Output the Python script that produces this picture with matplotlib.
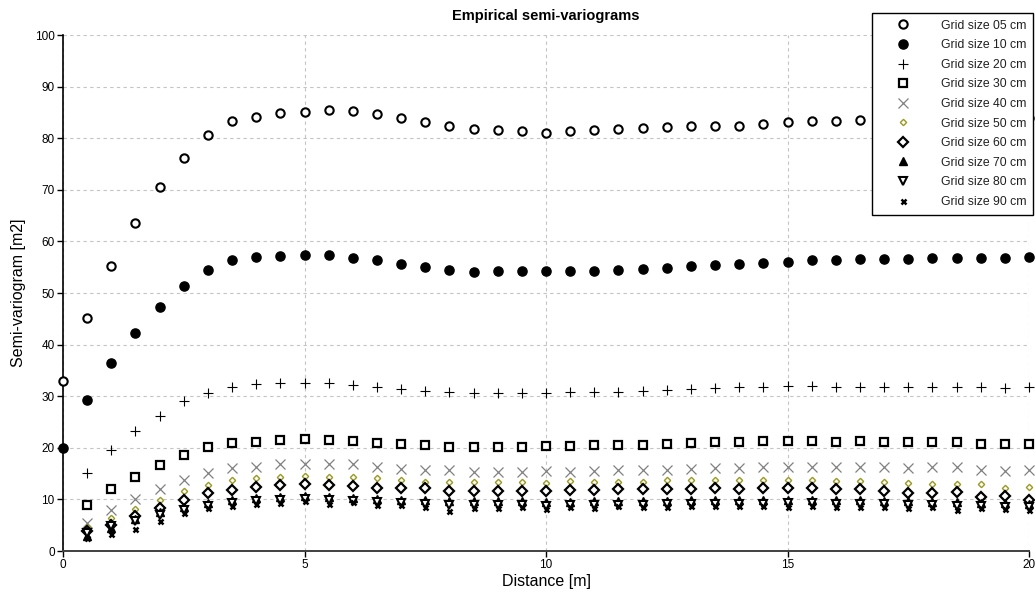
import numpy as np
import matplotlib
matplotlib.use("Agg")
import matplotlib.pyplot as plt

nan = np.nan
distance = [0.0, 0.5, 1.0, 1.5, 2.0, 2.5, 3.0, 3.5, 4.0, 4.5, 5.0, 5.5, 6.0, 6.5, 7.0, 7.5,
            8.0, 8.5, 9.0, 9.5, 10.0, 10.5, 11.0, 11.5, 12.0, 12.5, 13.0, 13.5, 14.0, 14.5,
            15.0, 15.5, 16.0, 16.5, 17.0, 17.5, 18.0, 18.5, 19.0, 19.5, 20.0]

g05 = [32.9, 45.1, 55.3, 63.5, 70.5, 76.1, 80.6, 83.3, 84.2, 84.8, 85.0, 85.4, 85.2, 84.6, 83.9, 83.1,
       82.3, 81.7, 81.5, 81.3, 81.1, 81.3, 81.5, 81.7, 81.9, 82.1, 82.3, 82.4, 82.3, 82.7,
       83.1, 83.3, 83.4, 83.6, 83.6, 83.7, 83.8, 83.8, 83.9, 83.9, 84.0]
g10 = [19.9, 29.2, 36.5, 42.3, 47.3, 51.4, 54.5, 56.3, 57.0, 57.2, 57.4, 57.4, 56.8, 56.4, 55.7, 55.0,
       54.4, 54.1, 54.2, 54.2, 54.2, 54.2, 54.3, 54.4, 54.6, 54.9, 55.2, 55.4, 55.6, 55.9,
       56.1, 56.3, 56.4, 56.5, 56.6, 56.6, 56.7, 56.8, 56.8, 56.8, 56.9]
g20 = [nan, 15.1, 19.5, 23.2, 26.2, 29.0, 30.6, 31.8, 32.3, 32.6, 32.6, 32.6, 32.2, 31.8, 31.4, 31.0,
       30.8, 30.7, 30.6, 30.6, 30.7, 30.8, 30.8, 30.9, 31.0, 31.2, 31.4, 31.6, 31.7, 31.8,
       31.9, 31.9, 31.8, 31.8, 31.8, 31.8, 31.8, 31.8, 31.7, 31.6, 31.8]
g30 = [nan, 8.9, 12.1, 14.4, 16.7, 18.6, 20.1, 20.9, 21.2, 21.5, 21.7, 21.6, 21.4, 20.9, 20.7, 20.6,
       20.1, 20.1, 20.1, 20.2, 20.4, 20.3, 20.6, 20.6, 20.6, 20.7, 20.9, 21.1, 21.1, 21.3,
       21.3, 21.3, 21.1, 21.3, 21.1, 21.1, 21.1, 21.1, 20.7, 20.7, 20.7]
g40 = [nan, 5.5, 7.9, 10.0, 12.1, 13.8, 15.2, 16.1, 16.2, 16.8, 16.8, 16.8, 16.8, 16.2, 15.9, 15.7,
       15.7, 15.3, 15.3, 15.4, 15.6, 15.4, 15.6, 15.7, 15.7, 15.7, 15.9, 16.1, 16.0, 16.2,
       16.3, 16.3, 16.2, 16.2, 16.2, 16.0, 16.3, 16.2, 15.7, 15.6, 15.7]
g50 = [nan, 4.6, 6.3, 8.1, 9.9, 11.6, 12.8, 13.8, 14.1, 14.4, 14.6, 14.4, 14.3, 14.1, 13.8, 13.4,
       13.4, 13.3, 13.3, 13.3, 13.1, 13.5, 13.3, 13.4, 13.4, 13.8, 13.7, 13.8, 13.8, 13.8,
       13.8, 13.8, 13.6, 13.6, 13.4, 13.2, 13.0, 12.9, 12.9, 12.3, 12.5]
g60 = [nan, 3.8, 5.0, 6.7, 8.3, 9.9, 11.2, 11.8, 12.5, 12.8, 13.0, 12.8, 12.6, 12.3, 12.3, 12.3,
       11.6, 11.6, 11.6, 11.6, 11.6, 11.8, 11.8, 12.0, 12.0, 12.1, 12.1, 12.3, 12.1, 12.3,
       12.3, 12.3, 12.1, 12.1, 11.6, 11.3, 11.3, 11.5, 10.4, 10.7, 9.9]
g70 = [nan, 3.0, 4.4, 6.2, 7.6, 8.6, 9.3, 9.8, 10.2, 10.4, 10.6, 10.5, 10.3, 10.1, 9.9, 9.8,
       9.6, 9.7, 9.6, 9.6, 9.5, 9.5, 9.6, 9.6, 9.7, 9.7, 9.8, 9.8, 9.8, 9.9,
       9.9, 9.9, 9.8, 9.8, 9.7, 9.6, 9.5, 9.4, 9.3, 9.3, 9.2]
g80 = [nan, 3.4, 4.8, 5.8, 7.0, 8.0, 8.8, 9.3, 9.6, 9.8, 10.0, 9.9, 9.7, 9.5, 9.3, 9.2,
       9.0, 8.9, 9.0, 8.9, 8.8, 8.9, 8.9, 9.0, 9.0, 9.1, 9.1, 9.2, 9.2, 9.2,
       9.3, 9.3, 9.2, 9.2, 9.1, 9.0, 8.9, 8.8, 8.7, 8.6, 8.6]
g90 = [nan, 2.6, 3.3, 4.2, 5.8, 7.4, 8.3, 8.7, 9.1, 9.3, 9.6, 9.1, 9.5, 8.9, 8.9, 8.6,
       7.8, 8.3, 8.3, 8.5, 8.2, 8.5, 8.4, 8.7, 8.6, 8.6, 8.7, 8.7, 8.7, 8.8,
       8.6, 8.8, 8.6, 8.5, 8.5, 8.4, 8.6, 7.9, 8.3, 8.2, 7.9]

labels = ["Grid size 05 cm", "Grid size 10 cm", "Grid size 20 cm", "Grid size 30 cm",
          "Grid size 40 cm", "Grid size 50 cm", "Grid size 60 cm", "Grid size 70 cm",
          "Grid size 80 cm", "Grid size 90 cm"]
series = [g05, g10, g20, g30, g40, g50, g60, g70, g80, g90]

styles = [
    dict(marker='o', ms=6.0, mfc='white', mec='black', mew=1.5),
    dict(marker='o', ms=6.6, mfc='black', mec='black', mew=1.0),
    dict(marker='+', ms=7.0, mfc='none', mec='black', mew=0.8),
    dict(marker='s', ms=6.3, mfc='white', mec='black', mew=1.6),
    dict(marker='x', ms=7.0, mfc='none', mec='#808080', mew=0.9),
    dict(marker='D', ms=3.2, mfc='white', mec='#9a9a20', mew=1.0),
    dict(marker='D', ms=5.0, mfc='white', mec='black', mew=1.6),
    dict(marker='^', ms=6.2, mfc='black', mec='black', mew=1.0),
    dict(marker='v', ms=5.8, mfc='white', mec='black', mew=1.5),
    dict(marker='x', ms=3.6, mfc='none', mec='black', mew=1.8),
]

plt.rcParams['font.family'] = ['Liberation Sans', 'DejaVu Sans']

fig = plt.figure(figsize=(10.35, 5.97), dpi=100)
ax = fig.add_axes([63/1035, 1-551/597, (1029-63)/1035, (551-35)/597])

for vals, lab, st in zip(series, labels, styles):
    ax.plot(distance, vals, linestyle='none', label=lab, clip_on=False, zorder=3, **st)

ax.set_xlim(0, 20)
ax.set_ylim(0, 100)
ax.set_xticks([0, 5, 10, 15, 20])
ax.set_yticks(range(0, 101, 10))
ax.grid(True, color='#c4c4c4', linestyle=(0, (3, 3)), linewidth=0.8)
ax.set_axisbelow(True)
for s in ['top', 'right']:
    ax.spines[s].set_visible(False)
ax.spines['left'].set_color('black')
ax.spines['left'].set_linewidth(1.2)
ax.spines['bottom'].set_color('#404040')
ax.spines['bottom'].set_linewidth(1.4)
ax.tick_params(direction='out', length=4, width=1, colors='black', labelsize=8.5, pad=2)

ax.set_title("Empirical semi-variograms", fontsize=10.5, fontweight='bold', pad=11)
ax.set_xlabel("Distance [m]", fontsize=11.5, labelpad=2)
ax.set_ylabel("Semi-variogram [m2]", fontsize=11.5, labelpad=6)

leg = fig.legend(loc='upper right', bbox_to_anchor=(1033/1035, 1-13/597),
                 fontsize=8.8, frameon=True, fancybox=False, edgecolor='black',
                 framealpha=1.0, borderpad=0.55, borderaxespad=0.0,
                 handlelength=4.0, handletextpad=1.1,
                 labelspacing=0.62, numpoints=1)
leg.get_frame().set_linewidth(1.0)
for t in leg.get_texts():
    t.set_color('#202020')

fig.savefig("out.png", dpi=100, facecolor='white')
